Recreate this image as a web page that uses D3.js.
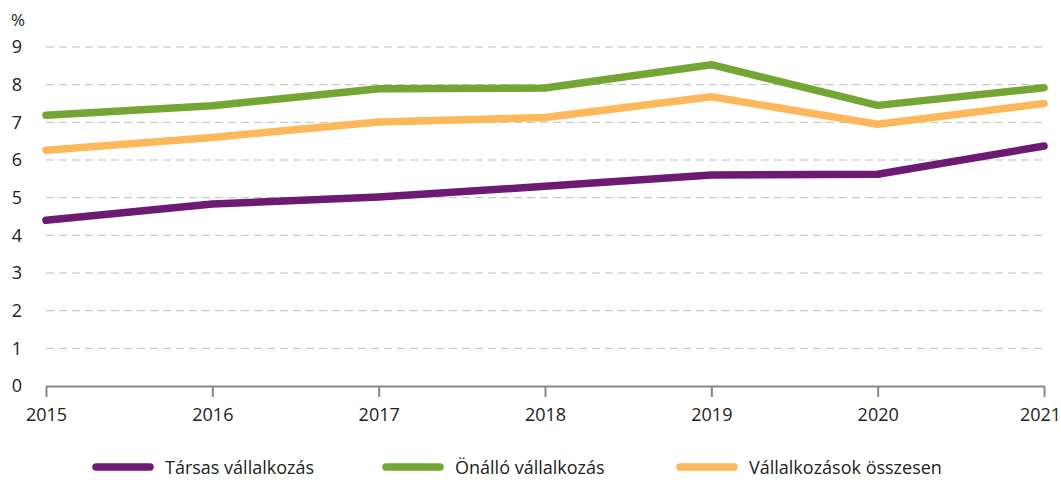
<!DOCTYPE html>
<html>
<head>
<meta charset="utf-8">
<script src="https://cdn.jsdelivr.net/npm/d3@7"></script>
<style>
  body { margin: 0; background: #fff; }
  text { font-family: "Open Sans", Lato, sans-serif; fill: #222; }
</style>
</head>
<body>
<div id="chart"></div>
<script>
    // data
    var years = [2015, 2016, 2017, 2018, 2019, 2020, 2021];
    var tarsas = [4.40, 4.83, 5.02, 5.30, 5.60, 5.62, 6.37];
    var onallo = [7.19, 7.44, 7.89, 7.91, 8.53, 7.45, 7.92];
    var osszesen = [6.26, 6.60, 7.01, 7.13, 7.68, 6.95, 7.50];
    var yTicks = [0, 1, 2, 3, 4, 5, 6, 7, 8, 9];
    var seriesNames = ["Társas vállalkozás", "Önálló vállalkozás", "Vállalkozások összesen"];
    var seriesColors = ["#6c1a74", "#73a632", "#fcb85a"];

    var series = [tarsas, onallo, osszesen];

    var totalWidth = 1061, totalHeight = 480;
    var margin = { top: 47, right: 17, bottom: 94, left: 46 },
      width = totalWidth - margin.left - margin.right,
      height = totalHeight - margin.top - margin.bottom;

    var svg = d3.select("#chart")
      .append("svg")
      .attr("width", totalWidth)
      .attr("height", totalHeight)
      .append("g")
      .attr("transform", "translate(" + margin.left + "," + margin.top + ")");

    var x = d3.scaleLinear()
      .domain([2015, 2021])
      .range([0, width]);

    var y = d3.scaleLinear()
      .domain([0, 9])
      .range([height, 0]);

    // dashed gridlines
    svg.selectAll(".grid")
      .data(yTicks.filter(function (d) { return d > 0; }))
      .enter()
      .append("line")
      .attr("class", "grid")
      .attr("x1", 0)
      .attr("x2", width - 2)
      .attr("y1", function (d) { return y(d); })
      .attr("y2", function (d) { return y(d); })
      .attr("stroke", "#bdbdbd")
      .attr("stroke-width", 1)
      .attr("stroke-dasharray", "8,5");

    // Y labels (no axis line)
    svg.selectAll(".ylab")
      .data(yTicks)
      .enter()
      .append("text")
      .attr("class", "ylab")
      .attr("x", -29)
      .attr("y", function (d) { return y(d); })
      .attr("dy", "0.36em")
      .attr("text-anchor", "middle")
      .attr("font-size", 18)
      .text(function (d) { return d; });

    svg.append("text")
      .attr("x", -35)
      .attr("y", -21)
      .attr("font-size", 17)
      .text("%");

    // X axis
    var xAxis = svg.append("g")
      .attr("transform", "translate(0," + height + ")")
      .call(d3.axisBottom(x)
        .tickValues(years)
        .tickFormat(d3.format("d"))
        .tickSize(11)
        .tickSizeOuter(0)
        .tickPadding(11));
    xAxis.select(".domain").attr("stroke", "#888").attr("stroke-width", 2);
    xAxis.selectAll(".tick line").attr("stroke", "#888").attr("stroke-width", 2);
    xAxis.selectAll(".tick text")
      .attr("font-size", 18)
      .attr("fill", "#222")
      .style("font-family", "'Open Sans', Lato, sans-serif")
      .attr("dx", function (d) { return d === 2021 ? "-4" : "0"; });

    // lines
    var line = d3.line()
      .x(function (d, i) { return x(years[i]); })
      .y(function (d) { return y(d); });

    svg.selectAll(".series")
      .data(series)
      .enter()
      .append("path")
      .attr("class", "series")
      .attr("d", function (d) { return line(d); })
      .attr("fill", "none")
      .attr("stroke", function (d, i) { return seriesColors[i]; })
      .attr("stroke-width", 7.5)
      .attr("stroke-linecap", "round")
      .attr("stroke-linejoin", "round");

    // legend
    var legendX = [93, 383, 677];
    var legend = d3.select("svg").append("g")
      .attr("transform", "translate(0,467)");
    var items = legend.selectAll(".item")
      .data(seriesNames)
      .enter()
      .append("g")
      .attr("class", "item")
      .attr("transform", function (d, i) { return "translate(" + legendX[i] + ",0)"; });
    items.append("line")
      .attr("x1", 3)
      .attr("x2", 57)
      .attr("stroke", function (d, i) { return seriesColors[i]; })
      .attr("stroke-width", 7.5)
      .attr("stroke-linecap", "round");
    items.append("text")
      .attr("x", 72)
      .attr("y", 6.5)
      .attr("font-size", 18)
      .text(function (d) { return d; });
</script>
</body>
</html>
